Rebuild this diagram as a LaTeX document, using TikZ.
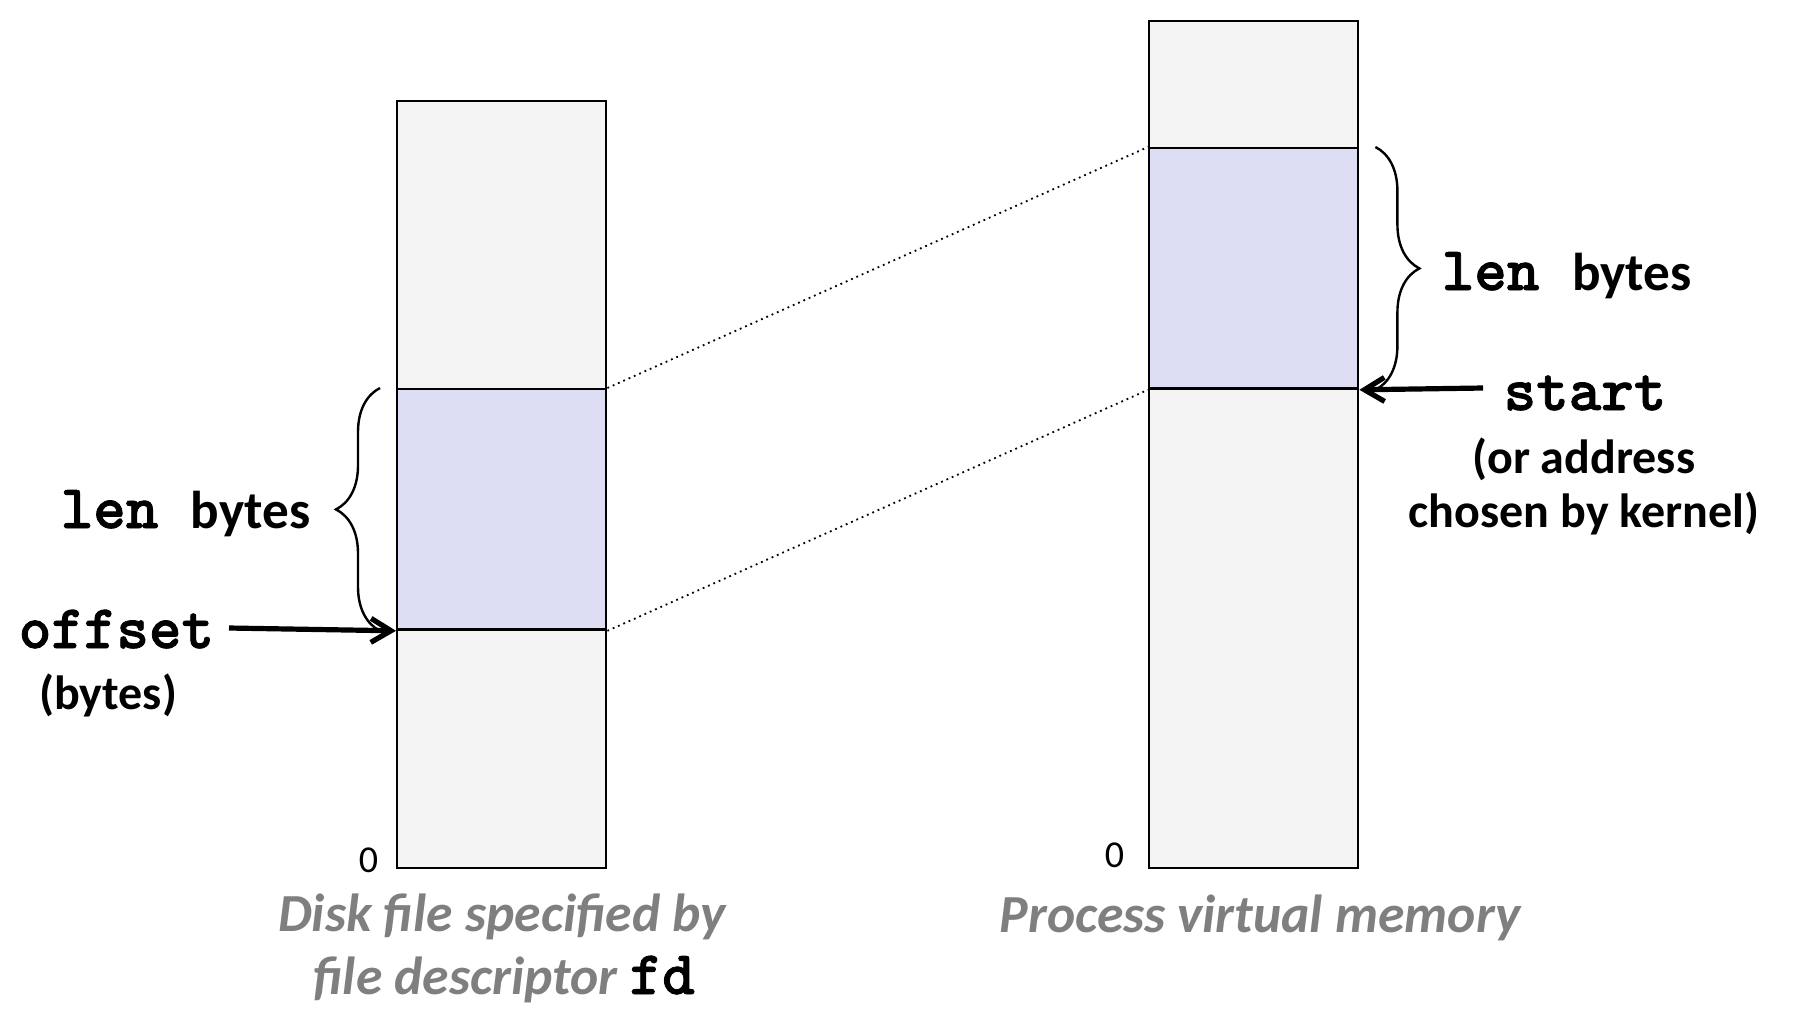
\documentclass[tikz,border=0pt]{standalone}
\usepackage{fontspec}
\setmainfont{Carlito}
\newfontfamily\codefont{lmmonolt10-bold.otf}[FakeBold=1.3]
\usetikzlibrary{decorations.pathreplacing,arrows.meta}

\definecolor{pagegray}{RGB}{244,244,244}
\definecolor{mapblue}{RGB}{221,221,243}
\definecolor{capgray}{RGB}{127,127,127}

\begin{document}
\begin{tikzpicture}[x=0.25pt,y=-0.25pt,
		mem/.style={draw=black, line width=0.6pt, fill=pagegray, inner sep=0pt, anchor=north west, minimum width=52.25pt},
		region/.style={draw=black, line width=0.6pt, fill=mapblue, inner sep=0pt, anchor=north west, minimum width=52.25pt, minimum height=60.1pt},
		sizebrace/.style={decorate, decoration={brace, amplitude=11pt, aspect=0.5}, line width=0.6pt},
		ptr/.style={-{Straight Barb[length=5pt, width=6pt]}, line width=1.3pt},
		label/.style={inner sep=0pt, font=\fontsize{12}{14}\selectfont\bfseries},
		code/.style={inner sep=0pt, font=\fontsize{15.5}{17}\selectfont\codefont},
		caption/.style={inner sep=0pt, text=capgray, font=\fontsize{13.4}{16}\selectfont\bfseries\itshape},
		zero/.style={inner sep=0pt, font=\fontsize{9.5}{11}\selectfont, anchor=base east}]
	\useasboundingbox (0,0) rectangle (1817,1009);
	% disk file
	\node[mem, minimum height=191.75pt] (file) at (396,100) {};
	\node[region] (filereg) at (396,388) {};
	% virtual memory
	\node[mem, minimum height=211.75pt] (vm) at (1148,20) {};
	\node[region] (vmreg) at (1148,147) {};
	% mapping
	\draw[densely dotted, line width=0.45pt] (filereg.north east) -- (vmreg.north west);
	\draw[densely dotted, line width=0.45pt] (filereg.south east) -- (vmreg.south west);
	% left side
	\draw[sizebrace] ([xshift=-4pt]filereg.south west) -- ([xshift=-4pt]filereg.north west);
	\coordinate (offtail) at (229,628);
	\draw[ptr] (offtail) -- (filereg.south west);
	\node[code, anchor=base west] (lenleft) at (60,528) {len\ {\normalfont\fontsize{13.3}{15}\selectfont\bfseries bytes}};
	\node[code, anchor=base west] (offset) at (18,648) {offset};
	\node[label, anchor=base] (offunit) at (108,709) {(bytes)};
	% right side
	\draw[sizebrace] ([xshift=4pt]vmreg.north east) -- ([xshift=4pt]vmreg.south east);
	\coordinate (starttail) at (1483,388);
	\draw[ptr] (starttail) -- (vmreg.south east);
	\node[code, anchor=base west] (lenright) at (1441,290) {len\ {\normalfont\fontsize{13.3}{15}\selectfont\bfseries bytes}};
	\node[code, anchor=base] (start) at (1585,410) {start};
	\node[label, anchor=base] (orline) at (1584,473) {(or address};
	\node[label, anchor=base] (kernel) at (1584,527) {chosen by kernel)};
	% bottoms
	\node[zero] (filezero) at (379,872) {0};
	\node[zero] (vmzero) at (1125,867) {0};
	\node[caption, anchor=base] (filecap) at (502,931) {Disk file specified by};
	\node[caption, anchor=base] (filecapb) at (504,994) {file descriptor {\upshape\color{black}\fontsize{15.5}{17}\selectfont\codefont fd}};
	\node[caption, anchor=base] (vmcap) at (1260,932) {Process virtual memory};
\end{tikzpicture}
\end{document}
